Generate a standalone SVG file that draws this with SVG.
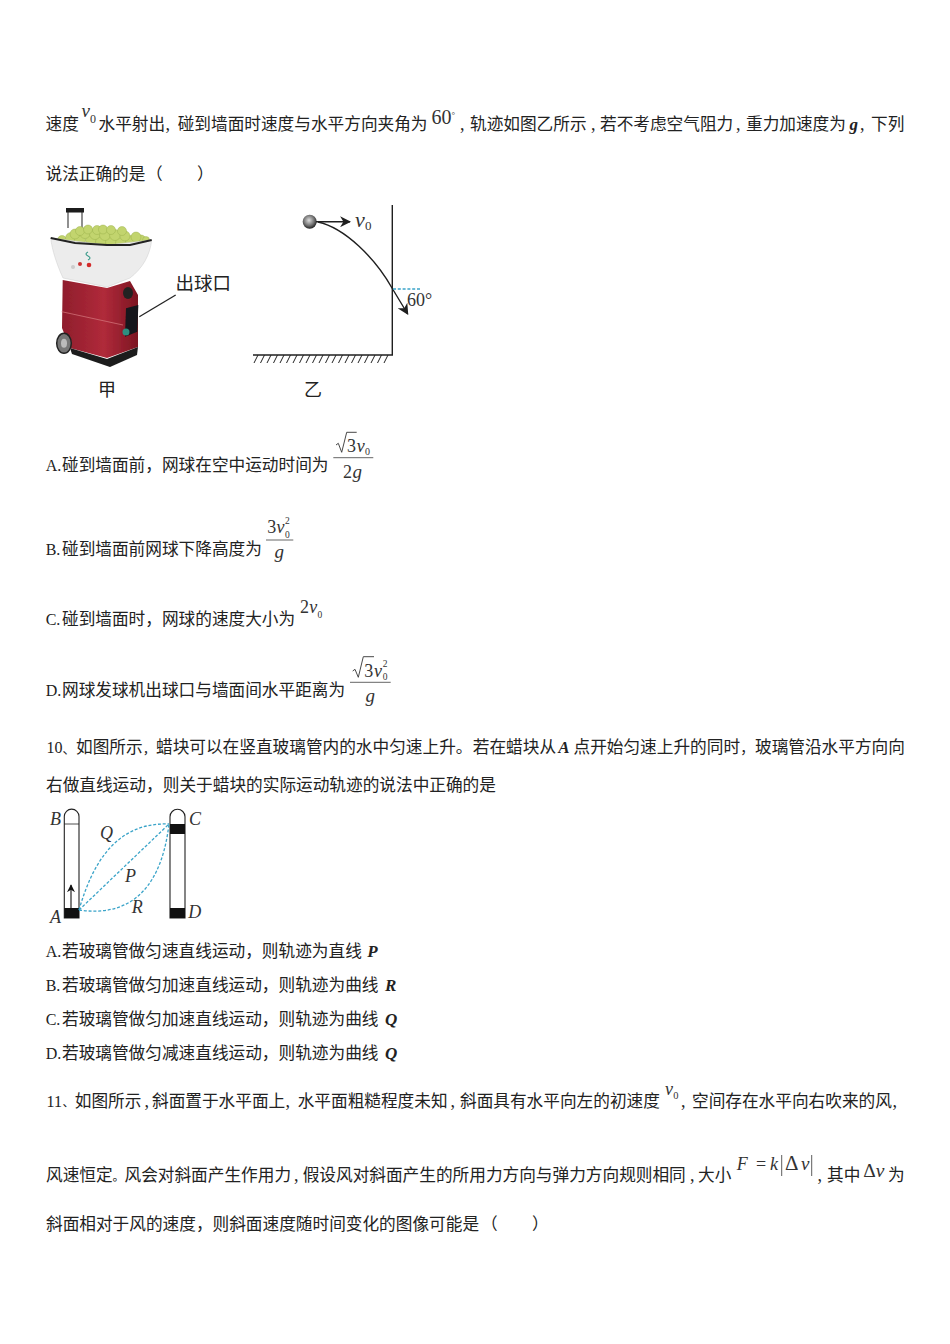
<svg xmlns="http://www.w3.org/2000/svg" width="950" height="1344" viewBox="0 0 950 1344">
<defs>
<style>
text{font-family:"Noto Sans CJK SC","Liberation Serif",sans-serif;fill:#222}
.b{font-size:16.67px}
.c{font-family:"Liberation Serif","Noto Sans CJK SC",serif;font-size:18px;fill:#222}
.l{font-family:"Liberation Serif","Noto Sans CJK SC",serif;font-size:16px;fill:#222}
.m{font-family:"Liberation Serif","Noto Sans CJK SC",serif;fill:#333}
.mi{font-family:"Liberation Serif","Noto Sans CJK SC",serif;font-style:italic;fill:#333}
.bi{font-family:"Liberation Serif","Noto Sans CJK SC",serif;font-style:italic;font-weight:bold;font-size:17px}
.d{fill:none;stroke:#1f1f1f;stroke-width:1.400}
.t{fill:none;stroke:#222;stroke-width:1.100}
.dash{fill:none;stroke:#3ba4c9;stroke-width:1.300;stroke-dasharray:3 1.800}
.bar{stroke:#555;stroke-width:.9}
.rad{fill:none;stroke:#333;stroke-width:.9}
</style>
<marker id="ah" viewBox="0 0 10 10" refX="9" refY="5" markerWidth="11" markerHeight="11" markerUnits="userSpaceOnUse" orient="auto"><path d="M0 0L10 5L0 10L3 5Z" fill="#1f1f1f"/></marker>
<marker id="ahs" viewBox="0 0 10 10" refX="9" refY="5" markerWidth="8" markerHeight="8" markerUnits="userSpaceOnUse" orient="auto"><path d="M0 0L10 5L0 10L3 5Z" fill="#111"/></marker>
<radialGradient id="ball" cx=".45" cy=".4" r=".6"><stop offset="0" stop-color="#ddd"/><stop offset=".6" stop-color="#777"/><stop offset="1" stop-color="#222"/></radialGradient>
<linearGradient id="red" x1="0" x2="1" y1="0" y2="0"><stop offset="0" stop-color="#8f1d2c"/><stop offset=".55" stop-color="#b02a3a"/><stop offset="1" stop-color="#7c1522"/></linearGradient>
<filter id="soft"><feGaussianBlur stdDeviation=".45"/></filter>
</defs>
<rect width="950" height="1344" fill="#fff"/>

<g id="question-9-stem">
<text class="b" y="130"><tspan x="45.500">速度</tspan><tspan class="mi" x="81.500" y="117" font-size="19">v</tspan><tspan class="m" x="90" y="123" font-size="12">0</tspan><tspan x="98.500" y="130">水平射出</tspan><tspan class="c" x="165.500">,</tspan><tspan x="177.700">碰到墙面时速度与水平方向夹角为</tspan><tspan class="m" x="431.500" y="123.500" font-size="20">60</tspan><tspan class="m" x="451.600" y="118" font-size="9">°</tspan><tspan class="c" x="460" y="130">,</tspan><tspan x="470">轨迹如图乙所示</tspan><tspan class="c" x="591">,</tspan><tspan x="600">若不考虑空气阻力</tspan><tspan class="c" x="736">,</tspan><tspan x="746">重力加速度为</tspan><tspan class="bi" x="849.500">g</tspan><tspan class="c" x="860">,</tspan><tspan x="871">下列</tspan></text>
<text class="b" y="180"><tspan x="45.500">说法正确的是</tspan><tspan x="146">（</tspan><tspan x="197">）</tspan></text>
</g>

<g id="figure-jia">
<g filter="url(#soft)">
<path d="M68 228V210M82 228V210" fill="none" stroke="#555" stroke-width="1.300"/>
<rect x="66" y="208" width="18" height="4.500" fill="#1a1a1a"/>
<g fill="#c2d46e" stroke="#93aa45" stroke-width=".4">
<circle cx="62" cy="240" r="4.500"/><circle cx="71" cy="238" r="5.500"/><circle cx="80" cy="240" r="5.500"/><circle cx="91" cy="240" r="5.500"/><circle cx="101" cy="242" r="5.500"/><circle cx="111" cy="242" r="5.500"/><circle cx="121" cy="243" r="5.500"/><circle cx="131" cy="241" r="5.500"/><circle cx="141" cy="240" r="5"/><circle cx="146" cy="240" r="3.500"/>
<circle cx="75" cy="234" r="5"/><circle cx="85" cy="233" r="5.500"/><circle cx="95" cy="234" r="5.500"/><circle cx="105" cy="235" r="5.500"/><circle cx="115" cy="235" r="5.500"/><circle cx="125" cy="236" r="5"/><circle cx="136" cy="237" r="5"/>
<circle cx="80" cy="231" r="4.500"/><circle cx="88" cy="229.500" r="4.500"/><circle cx="97" cy="230" r="4.500"/><circle cx="103" cy="229.500" r="4.500"/><circle cx="111" cy="230" r="4.500"/><circle cx="122" cy="231" r="4.500"/>
</g>
<path d="M62.700 280L107 288L130 281L138 295V347L107 358L70 348L62 328Z" fill="url(#red)"/>
<path d="M70 348L107 359L138 347L137 355L110 367L72 354Z" fill="#1c1c1c"/>
<path d="M50.700 238L107 245L151.700 240C150 255 143 268 130 278L107 287L63 278C57 265 52 250 50.700 238Z" fill="#ececec" stroke="#ccc" stroke-width=".5"/>
<path d="M50.700 238L75 243L107 245L130 245L151.700 240" fill="none" stroke="#222" stroke-width="2"/>
<circle cx="89" cy="265" r="2.300" fill="#d32b2b"/><circle cx="80" cy="264" r="2" fill="#c33"/><circle cx="73" cy="267" r="2" fill="#ccc"/>
<path d="M88 252q-4 2 0 4q4 2 0 4" fill="none" stroke="#3a9a8a" stroke-width="1.200"/>
<path d="M61.700 311.700L123 325" fill="none" stroke="#d77a7f" stroke-width=".7"/>
<path d="M126 308.300L138.300 305L137.300 331.700L125 336.700Z" fill="#15151a"/>
<circle cx="126" cy="332" r="3.500" fill="#2d8f80"/>
<ellipse cx="128" cy="293" rx="5" ry="6" fill="#222"/>
<ellipse cx="64" cy="343.300" rx="7.300" ry="10" fill="#777" stroke="#222" stroke-width="1.500"/>
<ellipse cx="64" cy="343.300" rx="3" ry="4.500" fill="#bbb"/>
</g>
<line x1="139.300" y1="316.700" x2="175.700" y2="295" stroke="#222" stroke-width="1.300"/>
<text x="175.500" y="290" font-size="18.500">出球口</text>
<text x="98" y="396" font-size="18">甲</text>
</g>

<g id="figure-yi">
<circle cx="309.700" cy="221.700" r="7" fill="url(#ball)"/>
<line x1="316" y1="221.700" x2="350" y2="221.700" class="d" marker-end="url(#ah)"/>
<text class="m"><tspan class="mi" x="355" y="226.700" font-size="22">v</tspan><tspan x="365" y="230" font-size="13">0</tspan></text>
<path d="M318 222C345 228 375 258 392 288L407.700 314" class="d" marker-end="url(#ah)"/>
<line x1="392.300" y1="205" x2="392.300" y2="355" class="d"/>
<line x1="253" y1="355" x2="393" y2="355" class="d"/>
<path d="M258 355l-4 8M264.500 355l-4 8M271 355l-4 8M277.500 355l-4 8M284 355l-4 8M290.500 355l-4 8M297 355l-4 8M303.500 355l-4 8M310 355l-4 8M316.500 355l-4 8M323 355l-4 8M329.500 355l-4 8M336 355l-4 8M342.500 355l-4 8M349 355l-4 8M355.500 355l-4 8M362 355l-4 8M368.500 355l-4 8M375 355l-4 8M381.500 355l-4 8M388 355l-4 8" stroke="#222" stroke-width="1" fill="none"/>
<line x1="393" y1="289" x2="420" y2="289" class="dash"/>
<text class="m" x="407" y="306" font-size="18">60°</text>
<text x="304" y="396" font-size="18">乙</text>
</g>

<g id="options-9">
<text class="l" x="45.700" y="471">A.</text>
<text class="b" x="62" y="471">碰到墙面前，网球在空中运动时间为</text>
<path d="M336 445L338.300 443.300L341.700 452.300L346.700 432.300H356.700" class="rad"/>
<text class="m" font-size="18"><tspan x="347" y="451.700">3</tspan><tspan class="mi" x="356.700">v</tspan><tspan x="365" y="455" font-size="10">0</tspan></text>
<line x1="333.300" y1="457.700" x2="373.300" y2="457.700" class="bar"/>
<text class="m" font-size="18"><tspan x="343" y="478.300">2</tspan><tspan class="mi" x="352.500" font-size="19">g</tspan></text>

<text class="l" x="45.700" y="554.500">B.</text>
<text class="b" x="62" y="554.500">碰到墙面前网球下降高度为</text>
<text class="m" font-size="18"><tspan x="267.300" y="533.300">3</tspan><tspan class="mi" x="276.400">v</tspan><tspan x="285" y="524" font-size="9.500">2</tspan><tspan x="285" y="537.700" font-size="9.500">0</tspan></text>
<line x1="266" y1="540" x2="293.300" y2="540" class="bar"/>
<text class="mi" x="274.500" y="558" font-size="19">g</text>

<text class="l" x="45.700" y="624.500">C.</text>
<text class="b" x="62" y="624.500">碰到墙面时，网球的速度大小为</text>
<text class="m" font-size="18"><tspan x="300" y="613.300">2</tspan><tspan class="mi" x="309.300">v</tspan><tspan x="317.500" y="617.700" font-size="9.500">0</tspan></text>

<text class="l" x="45.700" y="696">D.</text>
<text class="b" x="62" y="696">网球发球机出球口与墙面间水平距离为</text>
<path d="M352.700 671L355 669.300L358.300 677.300L363.300 656.700H374" class="rad"/>
<text class="m" font-size="18"><tspan x="364.300" y="676.700">3</tspan><tspan class="mi" x="374">v</tspan><tspan x="382.700" y="666.700" font-size="9.500">2</tspan><tspan x="382.700" y="680" font-size="9.500">0</tspan></text>
<line x1="350" y1="682.300" x2="390.700" y2="682.300" class="bar"/>
<text class="mi" x="365.500" y="701.700" font-size="19">g</text>
</g>

<g id="question-10-stem">
<text class="b" y="753"><tspan class="m" x="46.500" font-size="16" style="fill:#222">10</tspan><tspan x="62.500" font-size="13">、</tspan><tspan x="76">如图所示</tspan><tspan x="142.700" font-size="13">，</tspan><tspan x="156">蜡块可以在竖直玻璃管内的水中匀速上升。</tspan><tspan x="472.800">若在蜡块从</tspan><tspan class="bi" x="558.300">A</tspan><tspan x="573.500">点开始匀速上升的同时</tspan><tspan x="740.300" font-size="14">，</tspan><tspan x="755">玻璃管沿水平方向向</tspan></text>
<text class="b" y="791"><tspan x="46">右做直线运动，</tspan><tspan x="162.800">则关于蜡块的实际运动轨迹的说法中正确的是</tspan></text>
</g>

<g id="figure-tubes">
<path d="M64.300 918V816.500a7.300 7.300 0 0 1 14.700 0V918Z" class="t"/>
<line x1="64.300" y1="824" x2="79" y2="824" stroke="#222" stroke-width=".8"/>
<rect x="64.300" y="908" width="14.700" height="10" fill="#111"/>
<line x1="71" y1="908" x2="71" y2="885" stroke="#111" stroke-width="1.100" marker-end="url(#ahs)"/>
<path d="M170 918V816.800a7.500 7.500 0 0 1 15 0V918Z" class="t"/>
<rect x="170" y="824" width="15" height="10" fill="#111"/>
<rect x="170" y="908" width="15" height="10" fill="#111"/>
<path d="M79 910C92 865 115 822 169 824" class="dash"/>
<path d="M79 910L169 824" class="dash"/>
<path d="M79 910C120 916 160 900 169 824" class="dash"/>
<text class="mi" x="50" y="825" font-size="18">B</text>
<text class="mi" x="189" y="825" font-size="18">C</text>
<text class="mi" x="50" y="923.300" font-size="18">A</text>
<text class="mi" x="188.300" y="917.700" font-size="18">D</text>
<text class="mi" x="100" y="839" font-size="18">Q</text>
<text class="mi" x="125" y="881.700" font-size="18">P</text>
<text class="mi" x="131.700" y="913.300" font-size="18">R</text>
</g>

<g id="options-10">
<text class="l" x="45.700" y="957">A.</text><text class="b" y="957"><tspan x="62">若玻璃管做匀速直线运动，则轨迹为直线</tspan><tspan class="bi" x="367.300">P</tspan></text>
<text class="l" x="45.700" y="991">B.</text><text class="b" y="991"><tspan x="62">若玻璃管做匀加速直线运动，则轨迹为曲线</tspan><tspan class="bi" x="385">R</tspan></text>
<text class="l" x="45.700" y="1025">C.</text><text class="b" y="1025"><tspan x="62">若玻璃管做匀加速直线运动，则轨迹为曲线</tspan><tspan class="bi" x="385">Q</tspan></text>
<text class="l" x="45.700" y="1059">D.</text><text class="b" y="1059"><tspan x="62">若玻璃管做匀减速直线运动，则轨迹为曲线</tspan><tspan class="bi" x="385">Q</tspan></text>
</g>

<g id="question-11-stem">
<text class="b" y="1106.500"><tspan class="m" x="46.500" font-size="16" style="fill:#222">11</tspan><tspan x="62.500" font-size="12">、</tspan><tspan x="74.800">如图所示</tspan><tspan class="c" x="144.500">,</tspan><tspan x="152">斜面置于水平面上</tspan><tspan class="c" x="285.500">,</tspan><tspan x="297.700">水平面粗糙程度未知</tspan><tspan class="c" x="450.500">,</tspan><tspan x="460">斜面具有水平向左的初速度</tspan><tspan class="mi" x="665" y="1095" font-size="18">v</tspan><tspan class="m" x="673.200" y="1098.500" font-size="10.500">0</tspan><tspan class="c" x="681" y="1106.500">,</tspan><tspan x="692">空间存在水平向右吹来的风</tspan><tspan class="c" x="892.500">,</tspan></text>
<text class="b" y="1181"><tspan x="46">风速恒定</tspan><tspan x="112.400" font-size="12">。</tspan><tspan x="124.500">风会对斜面产生作用力</tspan><tspan class="c" x="294">,</tspan><tspan x="302.700">假设风对斜面产生的所用力方向与弹力方向规则相同</tspan><tspan class="c" x="690">,</tspan><tspan x="698">大小</tspan><tspan class="mi" x="736.700" y="1170" font-size="18">F</tspan><tspan class="m" x="756" font-size="18">=</tspan><tspan class="mi" x="770" font-size="18">k</tspan><tspan class="m" x="785" font-size="21">Δ</tspan><tspan class="mi" x="801" font-size="19">v</tspan><tspan class="c" x="817.500" y="1181">,</tspan><tspan x="827">其中</tspan><tspan class="m" x="863.300" y="1177" font-size="19.500">Δ</tspan><tspan class="mi" x="875.800" font-size="19.500">v</tspan><tspan x="888" y="1181">为</tspan></text>
<line x1="781.700" y1="1155" x2="781.700" y2="1176" stroke="#333" stroke-width=".8"/>
<line x1="811.700" y1="1155" x2="811.700" y2="1176" stroke="#333" stroke-width=".8"/>
<text class="b" y="1230"><tspan x="46">斜面相对于风的速度，则斜面速度随时间变化的图像可能是</tspan><tspan x="481">（</tspan><tspan x="532">）</tspan></text>
</g>
</svg>
